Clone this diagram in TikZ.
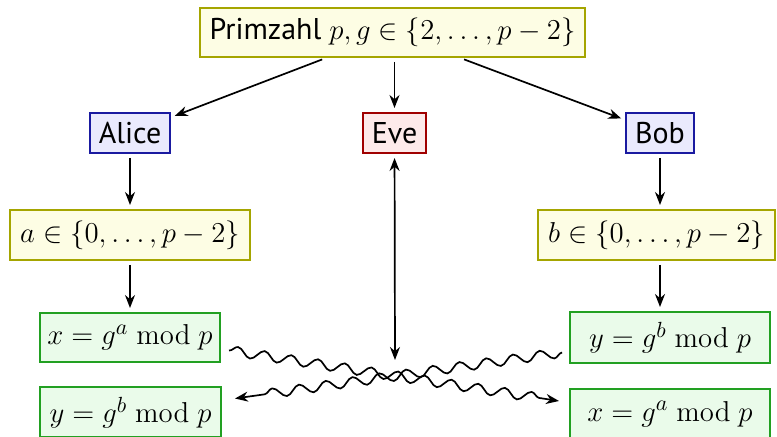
\documentclass[tikz,border=0pt]{standalone}
\usepackage[no-math]{fontspec}
\setmainfont{PT Sans}
\usetikzlibrary{arrows.meta,decorations.pathmorphing}
\definecolor{yfill}{HTML}{FDFDE4}
\definecolor{ydraw}{HTML}{A5A500}
\definecolor{bfill}{HTML}{EAEAFD}
\definecolor{bdraw}{HTML}{1A1AA0}
\definecolor{rfill}{HTML}{FDEAEA}
\definecolor{rdraw}{HTML}{A00000}
\definecolor{gfill}{HTML}{EAFBEA}
\definecolor{gdraw}{HTML}{22A022}
\tikzset{
  box/.style={draw, line width=1pt, inner sep=0pt, align=center,
    font=\fontsize{15}{18}\selectfont},
  ybox/.style={box, fill=yfill, draw=ydraw},
  bbox/.style={box, fill=bfill, draw=bdraw},
  rbox/.style={box, fill=rfill, draw=rdraw},
  gbox/.style={box, fill=gfill, draw=gdraw},
  tip/.style={Stealth[length=6.5pt,width=5pt]},
  arr/.style={-{Stealth[length=6.5pt,width=5pt]}, line width=0.85pt, shorten >=2pt, shorten <=2pt},
  wave/.style={-{Stealth[length=6.5pt,width=5pt]}, line width=0.85pt,
    decorate, decoration={snake, amplitude=2.4pt, segment length=13.5pt, post length=9pt}},
}
\begin{document}
\begin{tikzpicture}[x=0.5pt,y=-0.5pt]
\useasboundingbox (0,0) rectangle (777,437);
\node[ybox, minimum width=192.5pt, minimum height=24.5pt] (top) at (392.5,32.5) {Primzahl $p, g\in\{2,\ldots,p-2\}$};
\node[bbox, minimum width=40pt, minimum height=20pt] (alice) at (130,133) {Alice};
\node[rbox, minimum width=31.5pt, minimum height=20pt] (eve) at (394.5,133) {Eve};
\node[bbox, minimum width=34pt, minimum height=20pt] (bob) at (660,133) {Bob};
\node[ybox, minimum width=120pt, minimum height=25pt] (a) at (130,235) {$a\in\{0,\ldots,p-2\}$};
\node[ybox, minimum width=118.5pt, minimum height=25pt] (b) at (656.5,235) {$b\in\{0,\ldots,p-2\}$};
\node[gbox, minimum width=90pt, minimum height=24.5pt] (xl) at (130,337.5) {$x=g^a \bmod p$};
\node[gbox, minimum width=100pt, minimum height=25.5pt] (yr) at (670,337.5) {$y=g^b \bmod p$};
\node[gbox, minimum width=90.5pt, minimum height=25pt] (yl) at (130.5,412.5) {$y=g^b \bmod p$};
\node[gbox, minimum width=100pt, minimum height=25pt] (xr) at (670,414) {$x=g^a \bmod p$};
\coordinate (cross) at (395,364);
\draw[arr] (top) -- (alice);
\draw[arr] (top.south -| eve) -- (eve);
\draw[arr] (top) -- (bob);
\draw[arr] (alice) -- (a);
\draw[arr] (a) -- (xl);
\draw[arr] (bob) -- (bob |- b.north);
\draw[arr] (b.south -| bob) -- (bob |- yr.north);
\draw[arr, {Stealth[length=6.5pt,width=5pt]}-{Stealth[length=6.5pt,width=5pt]}] (eve) -- (cross);
\draw[wave] ([shift={(8,13)}]xl.east) -- ([shift={(-10,-13)}]xr.west);
\draw[wave] ([shift={(-7,15)}]yr.west) -- ([shift={(13,-14)}]yl.east);
\end{tikzpicture}
\end{document}
